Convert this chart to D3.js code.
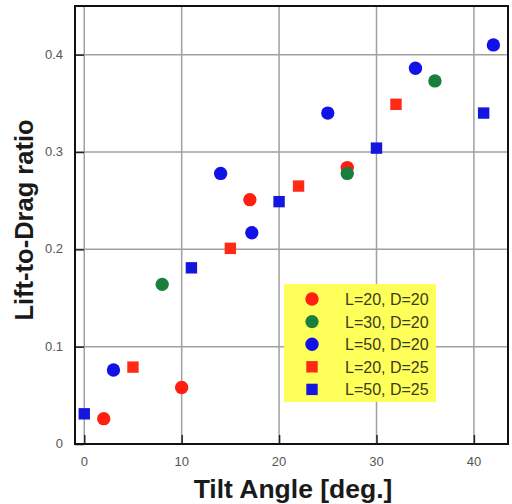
<!DOCTYPE html>
<html lang="en">
<head>
<meta charset="UTF-8">
<title>Lift-to-Drag ratio vs Tilt Angle</title>
<script src="https://d3js.org/d3.v7.min.js"></script>
<style>
    body { margin: 0; background: #fff; }
    svg { display: block; font-family: "Liberation Sans", Arial, sans-serif; }
    .tick-label { font-size: 13px; fill: #555; }
    .axis-title { font-weight: bold; fill: #1a1a1a; }
    .legend-text { font-size: 16px; fill: #3b3b1b; }
</style>
</head>
<body>
<div id="chart"></div>
<script>
    // data
    var seriesNames = ["L=20, D=20", "L=30, D=20", "L=50, D=20", "L=20, D=25", "L=50, D=25"];
    var seriesColors = ["#ff1e10", "#1a7f3c", "#1212e6", "#ff2a16", "#1515e0"];
    var seriesShapes = ["circle", "circle", "circle", "square", "square"];

    var l20d20 = [[2, 0.026], [10, 0.058], [17, 0.251], [27, 0.284]];
    var l30d20 = [[8, 0.164], [27, 0.278], [36, 0.373]];
    var l50d20 = [[3, 0.076], [14, 0.278], [17.2, 0.217], [25, 0.340], [34, 0.386], [42, 0.410]];
    var l20d25 = [[5, 0.079], [15, 0.201], [22, 0.265], [32, 0.349]];
    var l50d25 = [[0, 0.031], [11, 0.181], [20, 0.249], [30, 0.304], [41, 0.340]];
    var seriesData = [l20d20, l30d20, l50d20, l20d25, l50d25];

    var xTicks = [0, 10, 20, 30, 40];
    var yTicks = [0, 0.1, 0.2, 0.3, 0.4];

    var W = 512, H = 504;
    var margin = { top: 6, right: 4, bottom: 60, left: 75 };
    var width = W - margin.left - margin.right,
        height = H - margin.top - margin.bottom;

    var x = d3.scaleLinear().domain([-0.95, 43.5]).range([0, width]);
    var y = d3.scaleLinear().domain([0, 0.45]).range([height, 0]);

    var svg = d3.select("#chart").append("svg")
        .attr("width", W).attr("height", H);
    var g = svg.append("g")
        .attr("transform", "translate(" + margin.left + "," + margin.top + ")");

    // grid
    g.selectAll(".vgrid").data(xTicks).enter().append("line")
        .attr("x1", function (d) { return x(d); }).attr("x2", function (d) { return x(d); })
        .attr("y1", 0).attr("y2", height)
        .style("stroke", "#a0a0a0").style("stroke-width", 1.5);
    g.selectAll(".hgrid").data(yTicks.slice(1)).enter().append("line")
        .attr("x1", 0).attr("x2", width)
        .attr("y1", function (d) { return y(d); }).attr("y2", function (d) { return y(d); })
        .style("stroke", "#a0a0a0").style("stroke-width", 1.5);

    // axes with inward ticks
    var xAxis = g.append("g").attr("transform", "translate(0," + height + ")")
        .call(d3.axisBottom(x).tickValues(d3.range(0, 44, 2)).tickSize(-5).tickFormat(""));
    xAxis.call(d3.axisBottom(x).tickValues(xTicks).tickSize(-9).tickFormat(""));
    var yAxis = g.append("g")
        .call(d3.axisLeft(y).tickValues(d3.range(0, 0.45, 0.02)).tickSize(-5).tickFormat(""));
    yAxis.call(d3.axisLeft(y).tickValues(yTicks).tickSize(-9).tickFormat(""));
    svg.selectAll(".domain").remove();
    svg.selectAll(".tick line").style("stroke", "#222").style("stroke-width", 1.5);

    // tick labels
    g.selectAll(".xl").data(xTicks).enter().append("text")
        .attr("class", "tick-label")
        .attr("x", function (d) { return x(d); }).attr("y", height + 22)
        .attr("text-anchor", "middle").text(function (d) { return d; });
    g.selectAll(".yl").data(yTicks).enter().append("text")
        .attr("class", "tick-label")
        .attr("x", -12).attr("y", function (d) { return y(d) + 4; })
        .attr("text-anchor", "end").text(function (d) { return d === 0 ? "0" : d; });

    // frame
    g.append("rect").attr("width", width).attr("height", height)
        .style("fill", "none").style("stroke", "#111").style("stroke-width", 2);

    // markers
    var sym = { circle: d3.symbol().type(d3.symbolCircle).size(140),
                square: d3.symbol().type(d3.symbolSquare).size(130) };
    seriesData.forEach(function (data, i) {
        g.selectAll(".s" + i).data(data).enter().append("path")
            .attr("d", sym[seriesShapes[i]])
            .attr("transform", function (d) { return "translate(" + x(d[0]) + "," + y(d[1]) + ")"; })
            .style("fill", seriesColors[i]);
    });

    // legend
    var lg = svg.append("g").attr("transform", "translate(284,284)");
    lg.append("rect").attr("width", 152).attr("height", 118).style("fill", "#ffff5a");
    seriesNames.forEach(function (name, i) {
        lg.append("path")
            .attr("d", sym[seriesShapes[i]])
            .attr("transform", "translate(28," + (15 + i * 22.6) + ")")
            .style("fill", seriesColors[i]);
        lg.append("text").attr("class", "legend-text")
            .attr("x", 61).attr("y", 21 + i * 22.6).text(name);
    });

    // axis titles
    svg.append("text").attr("class", "axis-title")
        .style("font-size", "26.5px")
        .attr("x", 293).attr("y", 498).attr("text-anchor", "middle")
        .text("Tilt Angle [deg.]");
    svg.append("text").attr("class", "axis-title")
        .style("font-size", "25.5px")
        .attr("transform", "translate(33,220) rotate(-90)")
        .attr("text-anchor", "middle")
        .text("Lift-to-Drag ratio");
</script>
</body>
</html>
